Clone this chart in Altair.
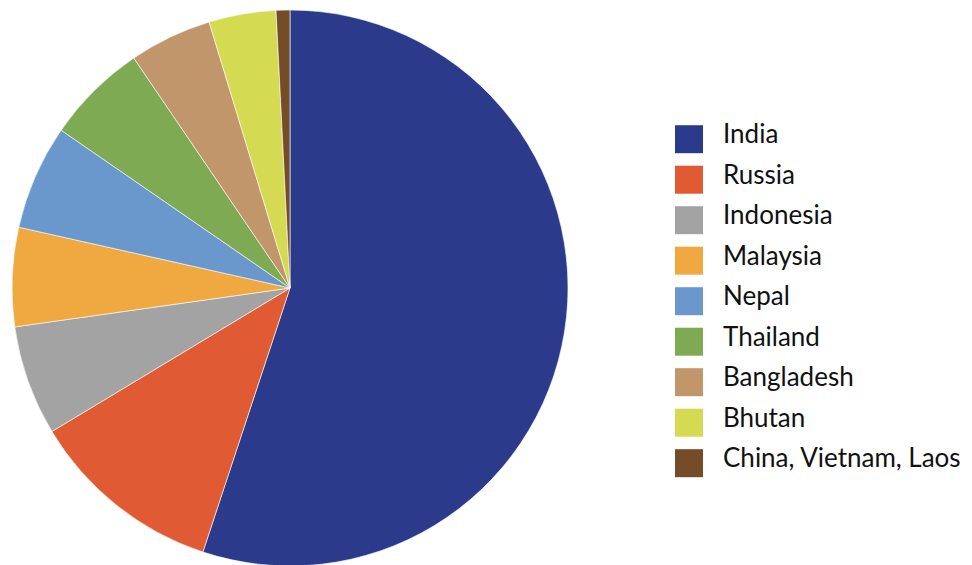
import altair as alt
import pandas as pd

countries = ["India", "Russia", "Indonesia", "Malaysia", "Nepal", "Thailand",
             "Bangladesh", "Bhutan", "China, Vietnam, Laos"]
shares = [55.1, 11.3, 6.4, 5.75, 6.1, 5.9, 4.8, 3.9, 0.8]
colors = ["#2B3A8B", "#E05A33", "#A3A3A3", "#F0A940", "#6A98CC", "#7DAA52",
          "#C1966B", "#D4DA51", "#744C28"]

df = pd.DataFrame({"country": countries, "share": shares, "order": list(range(len(countries)))})

chart = alt.Chart(df).mark_arc(radius=278, stroke="white", strokeWidth=0.6).encode(
    theta=alt.Theta("share:Q", stack=True),
    order=alt.Order("order:Q"),
    color=alt.Color(
        "country:N",
        sort=countries,
        scale=alt.Scale(domain=countries, range=colors),
        legend=alt.Legend(
            title=None,
            orient="none",
            legendX=667,
            legendY=110,
            symbolType="M-1,-0.7H1V1.3H-1Z",
            symbolSize=784,
            symbolStrokeWidth=0,
            labelFontSize=26,
            labelFont="Lato",
            labelColor="#111111",
            labelOffset=20,
            rowPadding=7.5,
            labelLimit=400,
        ),
    ),
).properties(width=564, height=554, padding=0).configure_view(stroke=None)

chart.save("out.html", embed_options={"renderer": "svg", "actions": False})
